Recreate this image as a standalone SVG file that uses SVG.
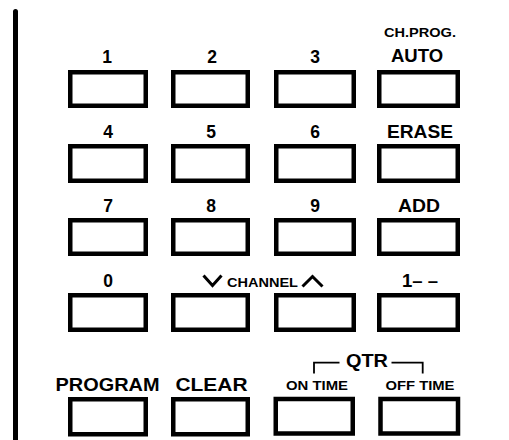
<svg xmlns="http://www.w3.org/2000/svg" width="509" height="440" viewBox="0 0 509 440">
<style>
.btn{fill:#fff;stroke:#000;stroke-width:4.5}
.lb{font-family:"Liberation Sans",Arial,sans-serif;font-weight:bold;font-size:18.5px;text-anchor:middle;fill:#000}
.dg{font-size:17.5px}
.sm{font-family:"Liberation Sans",Arial,sans-serif;font-weight:bold;font-size:13px;text-anchor:middle;fill:#000}
.ln{fill:none;stroke:#000}
</style>
<rect width="509" height="440" fill="#fff"/>
<line class="ln" x1="15.5" y1="11.5" x2="15.5" y2="446" stroke-width="5" stroke-linecap="round"/>

<g id="k1"><rect class="btn" x="70.25" y="72.25" width="75.5" height="33.5"/><text class="lb dg" x="107" y="63">1</text></g>
<g id="k2"><rect class="btn" x="173.25" y="72.25" width="74.5" height="33.5"/><text class="lb dg" x="212" y="63">2</text></g>
<g id="k3"><rect class="btn" x="276.25" y="72.25" width="77.5" height="33.5"/><text class="lb dg" x="315" y="63">3</text></g>
<g id="kauto"><rect class="btn" x="379.25" y="72.25" width="78.5" height="33.5"/><text class="sm" x="420" y="37" font-size="12.5px" textLength="72" lengthAdjust="spacingAndGlyphs">CH.PROG.</text><text class="lb" x="417" y="62">AUTO</text></g>

<g id="k4"><rect class="btn" x="70.25" y="146.25" width="75.5" height="34.5"/><text class="lb dg" x="108" y="138">4</text></g>
<g id="k5"><rect class="btn" x="173.25" y="146.25" width="74.5" height="34.5"/><text class="lb dg" x="211" y="138">5</text></g>
<g id="k6"><rect class="btn" x="276.25" y="146.25" width="77.5" height="34.5"/><text class="lb dg" x="315" y="138">6</text></g>
<g id="kerase"><rect class="btn" x="379.25" y="146.25" width="78.5" height="34.5"/><text class="lb" x="420" y="138" textLength="66" lengthAdjust="spacingAndGlyphs">ERASE</text></g>

<g id="k7"><rect class="btn" x="70.25" y="220.25" width="75.5" height="33.5"/><text class="lb dg" x="108" y="212">7</text></g>
<g id="k8"><rect class="btn" x="173.25" y="220.25" width="74.5" height="33.5"/><text class="lb dg" x="211" y="212">8</text></g>
<g id="k9"><rect class="btn" x="276.25" y="220.25" width="77.5" height="33.5"/><text class="lb dg" x="315" y="212">9</text></g>
<g id="kadd"><rect class="btn" x="379.25" y="220.25" width="78.5" height="33.5"/><text class="lb" x="419" y="212" textLength="42" lengthAdjust="spacingAndGlyphs">ADD</text></g>

<g id="k0"><rect class="btn" x="70.25" y="295.25" width="75.5" height="34.5"/><text class="lb dg" x="108" y="286.5">0</text></g>
<g id="kchdown"><rect class="btn" x="173.25" y="295.25" width="74.5" height="34.5"/><polyline class="ln" stroke-width="3" points="203.5,275.5 212.5,285.5 221.5,275.5"/></g>
<g id="kchlabel"><text class="sm" x="262.5" y="286.5" textLength="71" lengthAdjust="spacingAndGlyphs">CHANNEL</text></g>
<g id="kchup"><rect class="btn" x="276.25" y="295.25" width="77.5" height="34.5"/><polyline class="ln" stroke-width="3" points="302.5,286.5 312.5,276.5 322.5,286.5"/></g>
<g id="k10"><rect class="btn" x="379.25" y="295.25" width="78.5" height="34.5"/><text class="lb" x="420" y="286.5">1– –</text></g>

<g id="kprogram"><rect class="btn" x="70.25" y="399.25" width="75.5" height="35"/><text class="lb" x="107.5" y="391.3" textLength="104" lengthAdjust="spacingAndGlyphs">PROGRAM</text></g>
<g id="kclear"><rect class="btn" x="173.25" y="399.25" width="74.5" height="35"/><text class="lb" x="211.5" y="391.3" textLength="72" lengthAdjust="spacingAndGlyphs">CLEAR</text></g>
<g id="kontime"><rect class="btn" x="275.75" y="399" width="77" height="34.5"/><text class="sm" x="317" y="390" textLength="62" lengthAdjust="spacingAndGlyphs">ON TIME</text></g>
<g id="kofftime"><rect class="btn" x="380.5" y="399" width="77.5" height="34.5"/><text class="sm" x="420" y="390" textLength="69" lengthAdjust="spacingAndGlyphs">OFF TIME</text></g>

<g id="qtr"><polyline class="ln" stroke-width="1.8" points="314,373.5 314,362.7 339.5,362.7"/><polyline class="ln" stroke-width="1.8" points="391.5,362.7 422.7,362.7 422.7,373.5"/><text class="lb" x="367" y="367" font-size="17px" textLength="42" lengthAdjust="spacingAndGlyphs">QTR</text></g>
</svg>
